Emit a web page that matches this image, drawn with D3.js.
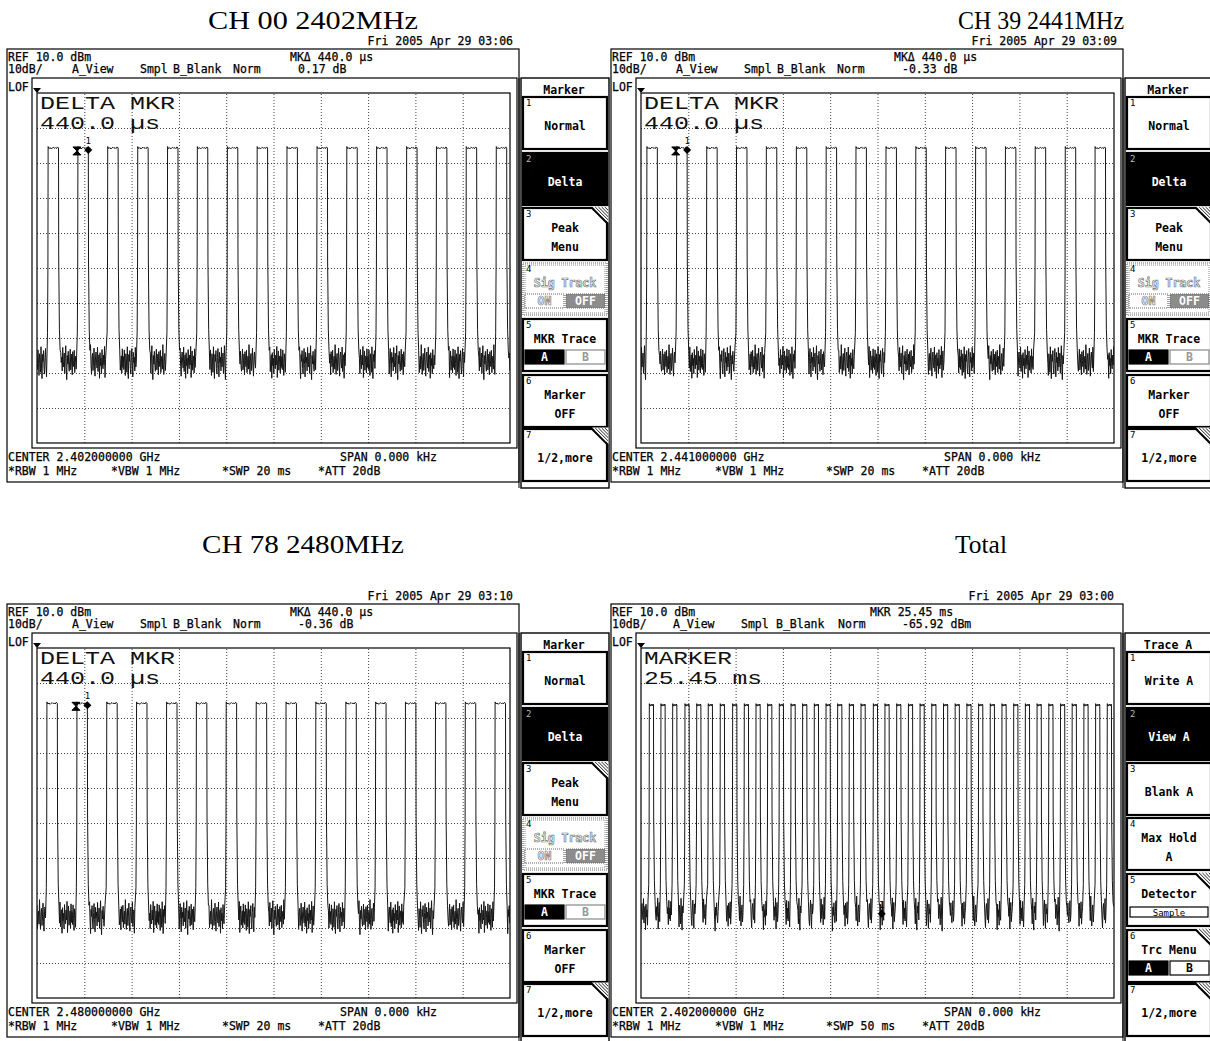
<!DOCTYPE html>
<html><head><meta charset="utf-8">
<script src="https://cdn.jsdelivr.net/npm/d3@7"></script>
<style>
html,body{margin:0;padding:0;background:#fff;}
svg{display:block;}
.mono{font-family:"DejaVu Sans Mono",monospace;font-size:11.5px;fill:#000;stroke:#000;stroke-width:0.25px;}
.klab{font-family:"DejaVu Sans Mono",monospace;font-size:11.5px;font-weight:bold;text-anchor:middle;}
.knum{font-family:"DejaVu Sans Mono",monospace;font-size:9px;}
.big{font-family:"Liberation Mono",monospace;font-size:17.5px;fill:#111;}
.title{font-family:"Liberation Serif","Times New Roman",serif;font-size:26px;fill:#000;text-anchor:middle;}
</style></head><body>
<script>
// ---------------- DATA ----------------
const panelTitles = ["CH 00 2402MHz", "CH 39 2441MHz", "CH 78 2480MHz", "Total"];
const dates = ["Fri 2005 Apr 29 03:06", "Fri 2005 Apr 29 03:09", "Fri 2005 Apr 29 03:10", "Fri 2005 Apr 29 03:00"];
const markerHeads = ["MKΔ 440.0 µs", "MKΔ 440.0 µs", "MKΔ 440.0 µs", "MKR 25.45 ms"];
const markerVals = ["0.17 dB", "-0.33 dB", "-0.36 dB", "-65.92 dBm"];
const bigLine1 = ["DELTA MKR", "DELTA MKR", "DELTA MKR", "MARKER"];
const bigLine2 = ["440.0 µs", "440.0 µs", "440.0 µs", "25.45 ms"];
const centerFreqs = ["2.402000000", "2.441000000", "2.480000000", "2.402000000"];
const sweepMs = [20, 20, 20, 50];
const refLevelDbm = 10;
const dbPerDiv = 10;
const pulseWidthMs = 0.44;
const pulseTopDbm = [-5.7, -5.7, -5.8, -6.3];
const floorDbm = [-66.5, -66.5, -66.5, -65.5];

const pulsesCh00 = [0.47, 1.73, 2.99, 4.26, 5.52, 6.78, 8.05, 9.31, 10.57, 11.84, 13.10, 14.36, 15.63, 16.89, 18.15, 19.42];
const pulsesCh39 = [0.25, 1.51, 2.78, 4.04, 5.30, 6.57, 7.83, 9.09, 10.36, 11.62, 12.88, 14.15, 15.41, 16.67, 17.94, 19.20];
const pulsesCh78 = [0.42, 1.69, 2.95, 4.21, 5.48, 6.74, 8.00, 9.27, 10.53, 11.79, 13.06, 14.32, 15.58, 16.85, 18.11, 19.37];
const pulsesTotal = [0.88, 2.11, 3.35, 4.65, 5.89, 7.11, 8.38, 9.69, 10.92, 12.16, 13.39, 14.62, 15.86, 17.09, 18.32, 19.56,
  20.79, 22.02, 23.26, 24.56, 25.79, 27.03, 28.27, 29.50, 30.74, 31.98, 33.21, 34.45, 35.69, 36.92, 38.16, 39.40,
  40.63, 41.87, 43.11, 44.35, 45.58, 46.82, 48.06, 49.29];

// noise floor samples (dB around the floor level)
const noiseDb = [1.2, -2.5, 3.1, -0.8, -4.2, 2.0, 0.5, -3.3, 4.0, -1.5, -5.1, 1.8, -0.2, 2.9, -2.2, -3.8, 0.9, 3.5, -1.1, -4.6,
  2.4, -0.5, 1.0, -2.9, 3.8, -1.8, -0.3, 2.2, -3.6, 0.6, 4.3, -2.0, -5.4, 1.5, -0.9, 2.7, -1.3, -3.0, 0.2, 3.3,
  -2.6, -0.7, 1.9, -4.0, 2.6, 0.1, -1.7, 3.0, -3.4, -0.4, 1.3, -2.4, 4.6, -1.0, -3.9, 0.8, 2.1, -2.8, -0.1, 3.6,
  -1.6, -4.4, 1.1, 2.5, -0.6, -2.1, 3.9, -3.1, 0.4, 1.7, -5.0, 2.3, -1.4, 0.7, -3.7, 3.2, -0.9, -2.3, 1.6, -1.2,
  4.1, -4.8, 0.3, 2.8, -2.7, -0.4, 1.4, -3.5, 3.4, -1.9];
const topRippleDb = [0.4, -0.2, 0.1, -0.3, 0.0, 0.2, -0.1, 0.1, -0.2, 0.3, 0.0];
const noiseStart = [0, 23, 47, 61];

const markerRefMs = [1.73, 1.51, 1.69];
const markerDeltaMs = 0.44;
const totalMarkerMs = 25.45;
const totalMarkerDbm = -65.92;

const markerMenuTitle = "Marker";
const markerMenu = [
  {n: "1", lines: ["Normal"]},
  {n: "2", lines: ["Delta"], active: true},
  {n: "3", lines: ["Peak", "Menu"], sub: true},
  {n: "4", lines: ["Sig Track"], toggle: ["ON", "OFF"], disabled: true},
  {n: "5", lines: ["MKR Trace"], toggle: ["A", "B"], dimSecond: true},
  {n: "6", lines: ["Marker", "OFF"]},
  {n: "7", lines: ["1/2,more"], sub: true}
];
const traceMenuTitle = "Trace A";
const traceMenu = [
  {n: "1", lines: ["Write A"]},
  {n: "2", lines: ["View A"], active: true},
  {n: "3", lines: ["Blank A"]},
  {n: "4", lines: ["Max Hold", "A"]},
  {n: "5", lines: ["Detector"], box: "Sample", sub: true},
  {n: "6", lines: ["Trc Menu"], toggle: ["A", "B"], sub: true},
  {n: "7", lines: ["1/2,more"], sub: true}
];

// ---------------- LAYOUT ----------------
const L = {
  origins: [[0, 0], [604, 0], [0, 555], [604, 555]],
  titles: [[313, 29, 210], [1041, 29, 166], [303, 553, 202], [981, 553, 52]],
  box: {x: 7, y: 49, w: 512, h: 433},
  frame: {x: 32, y: 78, w: 485, h: 370},
  grat: {x0: 37, x1: 510, y0: 93, y1: 443},
  col: {x: 521, y: 78, w: 88, h: 410},
  keyX: 523, keyW: 84, keyH: 52,
  keyTops: [97, 153, 208, 263, 319, 375, 429],
  hdr: [
    {mk: 290, a: 72, smpl: 140, bb: 173, norm: 233, mv: 298, dateR: 513, big1: 135, big2: 120},
    {mk: 290, a: 72, smpl: 140, bb: 173, norm: 233, mv: 298, dateR: 513, big1: 135, big2: 120},
    {mk: 290, a: 72, smpl: 140, bb: 173, norm: 233, mv: 298, dateR: 513, big1: 135, big2: 120},
    {mk: 266, a: 69, smpl: 137, bb: 172, norm: 234, mv: 298, dateR: 510, big1: 88, big2: 118}
  ]
};

const pulseSets = [pulsesCh00, pulsesCh39, pulsesCh78, pulsesTotal];

const svg = d3.select("body").append("svg").attr("width", 1210).attr("height", 1041);
svg.append("rect").attr("width", 1210).attr("height", 1041).attr("fill", "#fff");

// titles
panelTitles.forEach((t, i) => {
  const [cx, by, tw] = L.titles[i];
  svg.append("text").attr("class", "title").attr("x", cx).attr("y", by)
    .attr("textLength", tw).attr("lengthAdjust", "spacingAndGlyphs").text(t);
});

function buildTrace(i) {
  const starts = pulseSets[i];
  const sweep = sweepMs[i];
  const pxPerMs = (L.grat.x1 - L.grat.x0) / sweep;
  const px = 1 / pxPerMs;
  const dt = 0.5 * px;
  const top = pulseTopDbm[i], fl = floorDbm[i];
  let k = noiseStart[i];
  const nz = () => noiseDb[(k++) % noiseDb.length];
  const pts = [];
  let t = 0;
  starts.forEach(s => {
    for (; t < s - 1.2 * px; t += dt) pts.push([t, fl + nz()]);
    pts.push([s - 0.6 * px, fl + 8]);
    pts.push([s - 0.2 * px, -40]);
    const e = s + pulseWidthMs;
    topRippleDb.forEach((r, j) => pts.push([s + (e - s) * j / (topRippleDb.length - 1), top + r]));
    pts.push([e + 0.2 * px, -38]);
    pts.push([e + 0.9 * px, fl + 9]);
    pts.push([e + 1.6 * px, fl + 3]);
    t = e + 2.2 * px;
  });
  for (; t <= sweep; t += dt) pts.push([t, fl + nz()]);
  return pts;
}

function hatchCorner(g, x, top, w) {
  const c = 15;
  g.append("path").attr("d", `M${x + w - c},${top - 1.5}L${x + w + 1.5},${top - 1.5}L${x + w + 1.5},${top + c}Z`).attr("fill", "#fff");
  g.append("line").attr("x1", x + w - c).attr("y1", top).attr("x2", x + w).attr("y2", top + c)
    .attr("stroke", "#000").attr("stroke-width", 2);
  for (let j = 1; j <= 4; j++) {
    g.append("line").attr("x1", x + w - c + j * 3.2).attr("y1", top - 1).attr("x2", x + w + 1).attr("y2", top + c - j * 3.2)
      .attr("stroke", "#222").attr("stroke-width", 1);
  }
}

function drawKey(g, k, top) {
  const x = L.keyX, w = L.keyW, h = L.keyH;
  const kg = g.append("g");
  const dis = !!k.disabled;
  kg.append("rect").attr("x", x).attr("y", top).attr("width", w).attr("height", h)
    .attr("fill", k.active ? "#000" : "#fff")
    .attr("stroke", dis ? "#666" : "#000")
    .attr("stroke-width", dis ? 1.2 : 2.2)
    .attr("stroke-dasharray", dis ? "1,1" : null);
  if (dis) {
    kg.append("rect").attr("x", x + 2).attr("y", top + 2).attr("width", w - 4).attr("height", h - 4)
      .attr("fill", "none").attr("stroke", "#888").attr("stroke-width", 1).attr("stroke-dasharray", "1,1");
  }
  kg.append("text").attr("class", "knum").attr("x", x + 3).attr("y", top + 9)
    .attr("fill", k.active ? "#bbb" : "#000").text(k.n);
  const cx = x + w / 2;
  const lab = (txt, y) => {
    const t = kg.append("text").attr("class", "klab").attr("x", cx).attr("y", y).text(txt);
    if (k.active) t.attr("fill", "#fff");
    else if (dis) t.attr("fill", "#fff").attr("stroke", "#777").attr("stroke-width", 0.7).attr("font-weight", "normal");
    else t.attr("fill", "#000");
  };
  if (k.lines.length === 1 && !k.toggle && !k.box) {
    lab(k.lines[0], top + 33);
  } else {
    lab(k.lines[0], top + 24);
    if (k.lines[1]) lab(k.lines[1], top + 43);
  }
  if (k.toggle) {
    const by = top + 31, bh = 14, bw = w / 2 - 3;
    const bx = [x + 2, x + w / 2 + 1];
    k.toggle.forEach((tv, j) => {
      let fill, stroke, tf, dash = null, tstroke = null;
      if (dis) {
        fill = j === 0 ? "#fff" : "#8c8c8c"; stroke = "#666"; dash = "1,1";
        tf = "#fff"; tstroke = j === 0 ? "#777" : null;
      } else if (j === 0) {
        fill = "#000"; stroke = "#000"; tf = "#fff";
      } else {
        fill = "#fff"; stroke = k.dimSecond ? "#888" : "#000"; tf = k.dimSecond ? "#999" : "#000";
      }
      kg.append("rect").attr("x", bx[j]).attr("y", by).attr("width", bw).attr("height", bh)
        .attr("fill", fill).attr("stroke", stroke).attr("stroke-width", 1.2).attr("stroke-dasharray", dash);
      const tt = kg.append("text").attr("class", "klab").attr("x", bx[j] + bw / 2).attr("y", by + 11)
        .attr("fill", tf).text(tv);
      if (tstroke) tt.attr("stroke", tstroke).attr("stroke-width", 0.7).attr("font-weight", "normal");
    });
  }
  if (k.box) {
    kg.append("rect").attr("x", x + 3).attr("y", top + 33).attr("width", w - 6).attr("height", 10)
      .attr("fill", "#fff").attr("stroke", "#000").attr("stroke-width", 1.2);
    kg.append("text").attr("class", "knum").attr("x", cx).attr("y", top + 41.5).attr("text-anchor", "middle")
      .attr("fill", "#000").text(k.box);
  }
  if (k.sub) hatchCorner(kg, x, top, w);
}

function drawPanel(i) {
  const [ox, oy] = L.origins[i];
  const g = svg.append("g").attr("transform", `translate(${ox},${oy})`);
  const hp = L.hdr[i];
  const B = L.box, F = L.frame, G = L.grat, C = L.col;

  g.append("text").attr("class", "mono").attr("x", hp.dateR).attr("y", 45).attr("text-anchor", "end").text(dates[i]);
  g.append("rect").attr("x", B.x).attr("y", B.y).attr("width", B.w).attr("height", B.h)
    .attr("fill", "none").attr("stroke", "#000").attr("stroke-width", 1.2);
  g.append("rect").attr("x", F.x).attr("y", F.y).attr("width", F.w).attr("height", F.h)
    .attr("fill", "none").attr("stroke", "#000").attr("stroke-width", 1.2);

  const txt = (s, x, y) => g.append("text").attr("class", "mono").attr("x", x).attr("y", y).text(s);
  txt("REF " + refLevelDbm.toFixed(1) + " dBm", 8, 61);
  txt(markerHeads[i], hp.mk, 61);
  txt(dbPerDiv + "dB/", 8, 73);
  txt("A_View", hp.a, 73);
  txt("Smpl", hp.smpl, 73);
  txt("B_Blank", hp.bb, 73);
  txt("Norm", hp.norm, 73);
  txt(markerVals[i], hp.mv, 73);
  txt("LOF", 8, 91);
  g.append("path").attr("d", `M33,88L41,88L37,93Z`).attr("fill", "#000");
  txt("CENTER " + centerFreqs[i] + " GHz", 8, 461);
  txt("SPAN 0.000 kHz", 340, 461);
  txt("*RBW 1 MHz", 8, 475);
  txt("*VBW 1 MHz", 111, 475);
  txt("*SWP " + sweepMs[i] + " ms", 222, 475);
  txt("*ATT 20dB", 318, 475);

  const xs = d3.scaleLinear().domain([0, sweepMs[i]]).range([G.x0, G.x1]);
  const ys = d3.scaleLinear().domain([refLevelDbm - 10 * dbPerDiv, refLevelDbm]).range([G.y1, G.y0]);

  // graticule via axes
  const xTicks = d3.range(1, 10).map(j => sweepMs[i] * j / 10);
  const yTicks = d3.range(1, 10).map(j => refLevelDbm - j * dbPerDiv);
  const gx = g.append("g").attr("transform", `translate(0,${G.y1})`)
    .call(d3.axisBottom(xs).tickValues(xTicks).tickSize(-(G.y1 - G.y0)).tickFormat(""));
  const gy = g.append("g").attr("transform", `translate(${G.x0},0)`)
    .call(d3.axisLeft(ys).tickValues(yTicks).tickSize(-(G.x1 - G.x0)).tickFormat(""));
  [gx, gy].forEach(a => {
    a.select(".domain").remove();
    a.selectAll("line").attr("stroke", "#444").attr("stroke-width", 1).attr("stroke-dasharray", "1,2");
  });
  g.append("rect").attr("x", G.x0).attr("y", G.y0).attr("width", G.x1 - G.x0).attr("height", G.y1 - G.y0)
    .attr("fill", "none").attr("stroke", "#000").attr("stroke-width", 1.2);

  // big marker readout
  g.append("text").attr("class", "big").attr("x", 40).attr("y", 108.5)
    .attr("textLength", hp.big1).attr("lengthAdjust", "spacingAndGlyphs").text(bigLine1[i]);
  g.append("text").attr("class", "big").attr("x", 40).attr("y", 128.5)
    .attr("textLength", hp.big2).attr("lengthAdjust", "spacingAndGlyphs").text(bigLine2[i]);

  // trace
  const clipId = "clip" + i;
  g.append("clipPath").attr("id", clipId).append("rect")
    .attr("x", G.x0).attr("y", G.y0).attr("width", G.x1 - G.x0).attr("height", G.y1 - G.y0);
  const pts = buildTrace(i);
  const line = d3.line().x(d => xs(d[0])).y(d => ys(d[1]));
  g.append("path").attr("clip-path", `url(#${clipId})`).attr("d", line(pts))
    .attr("fill", "none").attr("stroke", "#161616").attr("stroke-width", 1).attr("stroke-linejoin", "round");

  // markers
  if (i < 3) {
    const rx = xs(markerRefMs[i]) - 1, ry = ys(pulseTopDbm[i]) + 3;
    g.append("path").attr("d", `M${rx - 4},${ry - 4}L${rx + 4},${ry - 4}L${rx - 4},${ry + 4}L${rx + 4},${ry + 4}Z`)
      .attr("fill", "#000").attr("stroke", "#000").attr("stroke-width", 1);
    const dx = xs(markerRefMs[i] + markerDeltaMs), dy = ys(pulseTopDbm[i]) + 2;
    g.append("path").attr("d", `M${dx},${dy - 4}L${dx + 4},${dy}L${dx},${dy + 4}L${dx - 4},${dy}Z`).attr("fill", "#000");
    g.append("text").attr("class", "knum").attr("x", dx).attr("y", dy - 6).attr("text-anchor", "middle").attr("font-size", "8px").text("1");
  } else {
    const mx = xs(totalMarkerMs), my = ys(totalMarkerDbm);
    g.append("path").attr("d", `M${mx},${my - 4}L${mx + 4},${my}L${mx},${my + 4}L${mx - 4},${my}Z`).attr("fill", "#000");
    g.append("text").attr("class", "knum").attr("x", mx).attr("y", my - 6).attr("text-anchor", "middle").attr("font-size", "8px").text("1");
  }

  // softkey column
  g.append("rect").attr("x", C.x).attr("y", C.y).attr("width", C.w).attr("height", C.h)
    .attr("fill", "#fff").attr("stroke", "#000").attr("stroke-width", 1.4);
  g.append("line").attr("x1", C.x - 2).attr("y1", C.y).attr("x2", C.x - 2).attr("y2", C.y + C.h)
    .attr("stroke", "#000").attr("stroke-width", 1);
  const menuTitle = i < 3 ? markerMenuTitle : traceMenuTitle;
  const menu = i < 3 ? markerMenu : traceMenu;
  g.append("text").attr("class", "klab").attr("x", C.x + C.w / 2 - 1).attr("y", 94).attr("fill", "#000").text(menuTitle);
  menu.forEach((k, j) => drawKey(g, k, L.keyTops[j]));
}

[0, 1, 2, 3].forEach(drawPanel);
</script>
</body></html>
